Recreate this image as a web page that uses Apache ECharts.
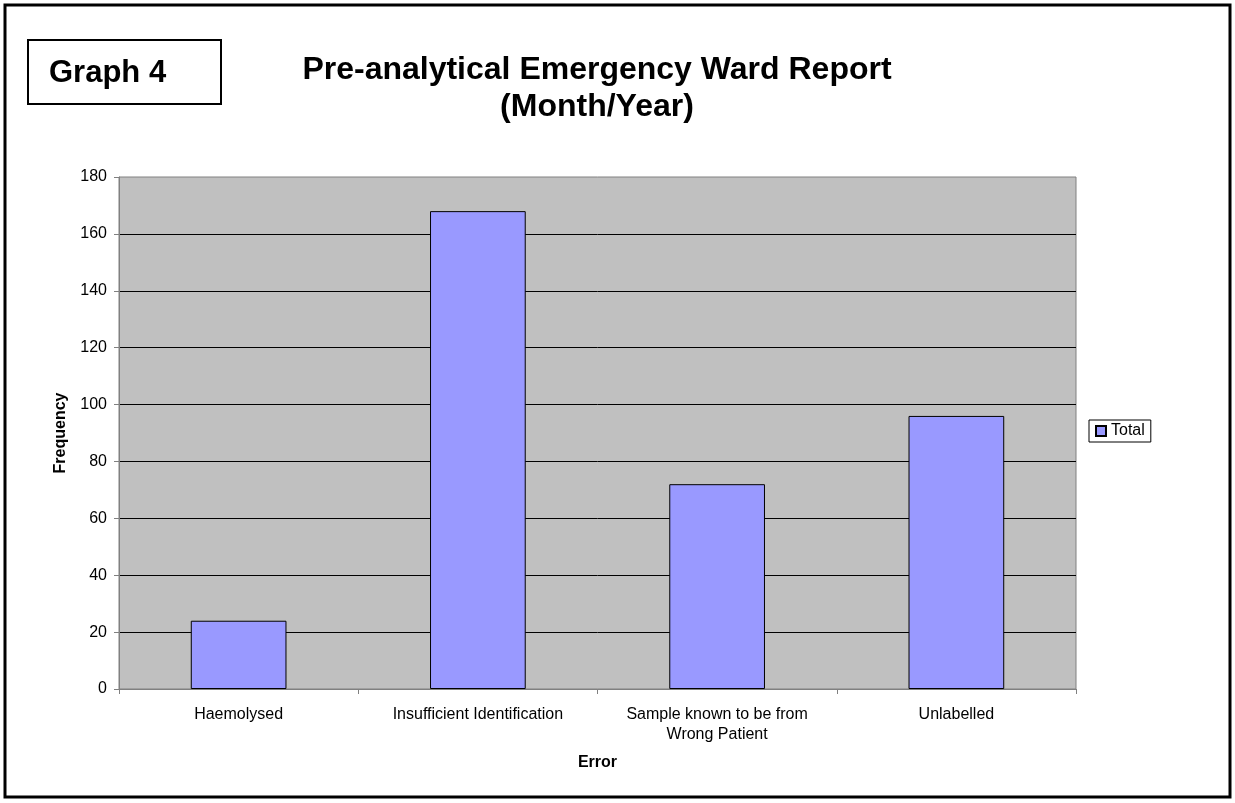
<!DOCTYPE html>
<html>
<head>
<meta charset="utf-8">
<script src="https://cdn.jsdelivr.net/npm/echarts@6/dist/echarts.min.js"></script>
<style>
  html, body { margin: 0; padding: 0; background: #fff; }
  #main { width: 1235px; height: 803px; }
</style>
</head>
<body>
<div id="main"></div>
<script>
// data
var categories = ['Haemolysed', 'Insufficient Identification', 'Sample known to be from\nWrong Patient', 'Unlabelled'];
var totals = [24, 168, 72, 96];
var yTicks = { min: 0, max: 180, interval: 20 };

var myChart = echarts.init(document.getElementById('main'));

var font = 'Liberation Sans, Arial, sans-serif';

var option = {
    backgroundColor: '#fff',
    animation: false,
    textStyle: { fontFamily: font, color: '#000' },
    title: {
        text: 'Pre-analytical Emergency Ward Report\n(Month/Year)',
        left: 597,
        top: 52,
        padding: 0,
        textAlign: 'center',
        textStyle: { fontFamily: font, fontSize: 32, fontWeight: 'bold', color: '#000', lineHeight: 37 }
    },
    graphic: [
        {
            type: 'rect',
            shape: { x: 5, y: 5, width: 1225, height: 792 },
            style: { fill: 'none', stroke: '#000', lineWidth: 3 },
            silent: true
        },
        {
            type: 'rect',
            shape: { x: 28, y: 40, width: 193, height: 64 },
            style: { fill: '#fff', stroke: '#000', lineWidth: 2 },
            silent: true
        },
        {
            type: 'text',
            left: 49,
            top: 58,
            style: { text: 'Graph 4', font: 'bold 31px ' + font, fill: '#000' },
            silent: true
        }
    ],
    legend: {
        data: ['Total'],
        left: 1089,
        top: 420,
        orient: 'vertical',
        borderColor: '#000',
        borderWidth: 1,
        padding: [3, 6, 3, 6],
        itemWidth: 10,
        itemHeight: 10,
        itemGap: 4,
        icon: 'rect',
        textStyle: { fontFamily: font, fontSize: 16, color: '#000', padding: [0, 0, 0, 0] }
    },
    grid: {
        left: 119,
        top: 177,
        right: 159,
        bottom: 114,
        show: true,
        backgroundColor: '#c0c0c0',
        borderColor: '#808080',
        borderWidth: 1
    },
    xAxis: {
        type: 'category',
        data: categories,
        name: 'Error',
        nameLocation: 'middle',
        nameGap: 66,
        nameTextStyle: { fontFamily: font, fontSize: 16, fontWeight: 'bold', color: '#000' },
        axisLine: { lineStyle: { color: '#808080', width: 1 } },
        axisTick: { show: true, alignWithLabel: false, length: 5, lineStyle: { color: '#808080' } },
        axisLabel: { fontFamily: font, fontSize: 16, color: '#000', margin: 16, interval: 0, lineHeight: 20 },
        splitLine: { show: false }
    },
    yAxis: {
        type: 'value',
        min: yTicks.min,
        max: yTicks.max,
        interval: yTicks.interval,
        name: 'Frequency',
        nameLocation: 'middle',
        nameGap: 50,
        nameTextStyle: { fontFamily: font, fontSize: 16, fontWeight: 'bold', color: '#000' },
        axisLine: { show: true, lineStyle: { color: '#808080', width: 1 } },
        axisTick: { show: true, length: 5, lineStyle: { color: '#808080' } },
        axisLabel: { fontFamily: font, fontSize: 16, color: '#000', margin: 12 },
        splitLine: { show: true, showMinLine: false, showMaxLine: false, lineStyle: { color: '#000', width: 1 } }
    },
    series: [
        {
            name: 'Total',
            type: 'bar',
            data: totals,
            barWidth: '40%',
            itemStyle: { color: '#9999ff', borderColor: '#000', borderWidth: 1 }
        }
    ]
};

myChart.setOption(option);
</script>
</body>
</html>
